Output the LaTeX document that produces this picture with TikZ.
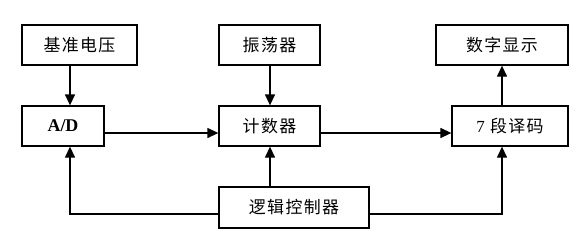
\documentclass[tikz,border=0pt]{standalone}
\usepackage{fontspec}
\setmainfont{Liberation Serif}
\newfontfamily\cjk[LetterSpace=8]{Noto Sans CJK SC}
\usetikzlibrary{arrows.meta}
\begin{document}
\begin{tikzpicture}[x=1bp,y=-1bp,
  blk/.style={draw,line width=1.3bp,inner sep=0pt,font=\cjk\fontsize{17}{19}\selectfont},
  conn/.style={line width=1.3bp,-{Triangle[length=11bp,width=10bp]}}]
\useasboundingbox (0,0) rectangle (584,235);
\node[blk,minimum width=115bp,minimum height=40bp] (ref) at (79.5,45) {基准电压};
\node[blk,minimum width=82bp,minimum height=40bp] (ad) at (63,126) {\rmfamily\bfseries\fontsize{18}{20}\selectfont A/D};
\node[blk,minimum width=101bp,minimum height=40bp] (osc) at (269.5,45) {振荡器};
\node[blk,minimum width=101bp,minimum height=40bp] (cnt) at (269.5,126) {计数器};
\node[blk,minimum width=150bp,minimum height=41bp] (ctl) at (294,207.5) {逻辑控制器};
\node[blk,minimum width=132bp,minimum height=40bp] (disp) at (502,45) {数字显示};
\node[blk,minimum width=116bp,minimum height=40bp] (dec) at (510,126) {{\rmfamily 7} 段译码};
\draw[conn] (ref.south -| 70,0) -- (ad.north -| 70,0);
\draw[conn] (osc.south -| 270,0) -- (cnt.north -| 270,0);
\draw[conn] (ad.east |- 0,133) -- (cnt.west |- 0,133);
\draw[conn] (cnt.east |- 0,133) -- (dec.west |- 0,133);
\draw[conn] (dec.north -| 502,0) -- (disp.south -| 502,0);
\draw[conn] (ctl.north -| 270,0) -- (cnt.south -| 270,0);
\draw[conn] (ctl.west |- 0,214) -| (ad.south -| 70,0);
\draw[conn] (ctl.east |- 0,214) -| (dec.south -| 502,0);
\end{tikzpicture}
\end{document}
